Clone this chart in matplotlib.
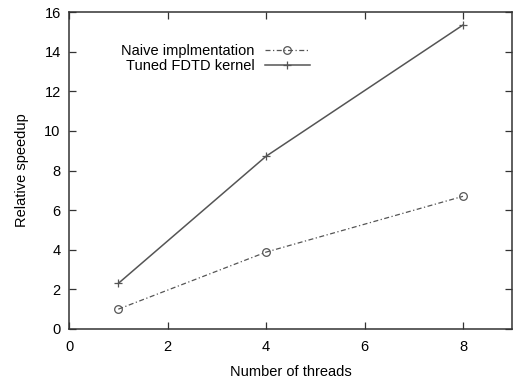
import matplotlib
matplotlib.use("Agg")
import matplotlib.pyplot as plt

plt.rcParams['font.family'] = ['Liberation Sans', 'DejaVu Sans']

# data
threads = [1, 4, 8]
naive = [1.0, 3.88, 6.7]
tuned = [2.3, 8.72, 15.35]

grey = '#555555'
fs = 10.5

fig = plt.figure(figsize=(5.19, 3.79), dpi=100)
ax = fig.add_axes([0.133, 0.132, 0.854, 0.836])

ax.plot(threads, naive, color=grey, lw=0.9, dashes=(4, 2, 1, 2),
        marker='o', mfc='none', mec=grey, ms=5.5, mew=0.9,
        label='Naive implmentation')
ax.plot(threads, tuned, color=grey, lw=1.1,
        marker='+', ms=6, mew=0.9, label='Tuned FDTD kernel')

ax.set_xlim(0, 9)
ax.set_ylim(0, 16)
ax.set_xticks([0, 2, 4, 6, 8])
ax.set_yticks(range(0, 17, 2))
ax.tick_params(direction='in', top=True, right=True, length=5,
               width=0.9, color='#333333', labelsize=fs, pad=6)
ax.tick_params(axis='x', pad=8)
for s in ax.spines.values():
    s.set_linewidth(1.1)
    s.set_color('#333333')

ax.set_xlabel('Number of threads', fontsize=fs, labelpad=8)
ax.set_ylabel('Relative speedup', fontsize=fs, labelpad=11)

ax.legend(loc='center right', bbox_to_anchor=(310 / 519, 1 - 58.5 / 379),
          bbox_transform=fig.transFigure, frameon=False,
          markerfirst=False, handlelength=3.1, fontsize=fs,
          labelspacing=0.05, handletextpad=0.7, borderpad=0,
          borderaxespad=0)

fig.savefig('out.png', dpi=100)
